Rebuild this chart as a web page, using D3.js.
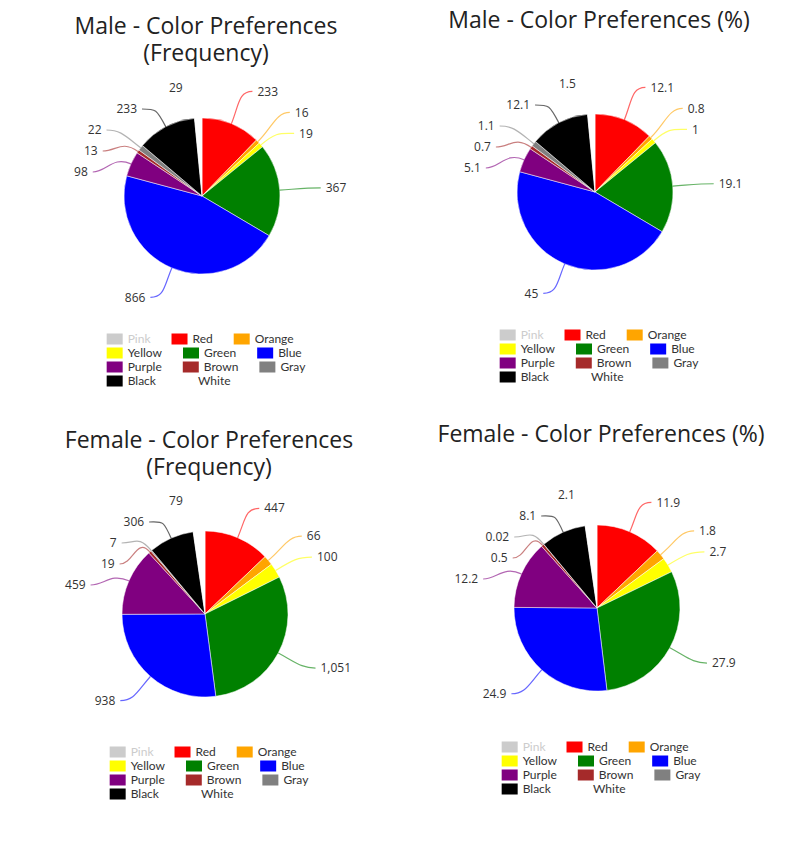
<!DOCTYPE html>
<html>
<head>
<meta charset="utf-8">
<script src="https://cdn.jsdelivr.net/npm/d3@7"></script>
<style>
  body { margin: 0; background: #fff; }
  svg { display: block; }
</style>
</head>
<body>
<div id="chart"></div>
<script>
// colour categories, in slice order (Pink is switched off in the legend)
const colorNames = ['Pink', 'Red', 'Orange', 'Yellow', 'Green', 'Blue', 'Purple', 'Brown', 'Gray', 'Black', 'White'];
const colorFills = ['#cccccc', '#ff0000', '#ffa500', '#ffff00', '#008000', '#0000ff', '#800080', '#a52a2a', '#808080', '#000000', '#ffffff'];
const hiddenNames = ['Pink'];

// series values, null where the slice is hidden
const maleFreq   = [null, 233, 16, 19, 367, 866, 98, 13, 22, 233, 29];
const malePct    = [null, 12.1, 0.8, 1, 19.1, 45, 5.1, 0.7, 1.1, 12.1, 1.5];
const femaleFreq = [null, 447, 66, 100, 1051, 938, 459, 19, 7, 306, 79];
const femalePct  = [null, 11.9, 1.8, 2.7, 27.9, 24.9, 12.2, 0.5, 0.02, 8.1, 2.1];

const maleFreqTitle   = ['Male - Color Preferences', '(Frequency)'];
const malePctTitle    = ['Male - Color Preferences (%)'];
const femaleFreqTitle = ['Female - Color Preferences', '(Frequency)'];
const femalePctTitle  = ['Female - Color Preferences (%)'];

let dim = { width: 802, height: 845 };

let svg = d3.select('#chart').append('svg')
    .attr('width', dim.width)
    .attr('height', dim.height);

let charts = [
    { title: maleFreqTitle,   values: maleFreq,   cx: 202, cy: 196, r: 78, titleY: 34,  legendY: 339 },
    { title: malePctTitle,    values: malePct,    cx: 595, cy: 192, r: 78, titleY: 28,  legendY: 335 },
    { title: femaleFreqTitle, values: femaleFreq, cx: 205, cy: 614, r: 83, titleY: 448, legendY: 752 },
    { title: femalePctTitle,  values: femalePct,  cx: 597, cy: 608, r: 83, titleY: 442, legendY: 747 }
];

let fmt = d3.format(',');
let titleFont = '"Open Sans", sans-serif';
let legendFont = 'Lato, "Open Sans", sans-serif';
let labelFont = '"Open Sans", "Noto Sans", sans-serif';

charts.forEach(function(c) {
    drawPie(c);
});

function drawPie(c) {
    let g = svg.append('g');

    // title, one text with a tspan per line
    let title = g.append('text')
        .attr('text-anchor', 'middle')
        .style('font-family', titleFont)
        .style('font-size', '23px')
        .attr('fill', '#222');
    c.title.forEach(function(line, i) {
        title.append('tspan')
            .attr('x', c.cx + 4)
            .attr('y', c.titleY + i * 27)
            .text(line);
    });

    let rows = colorNames.map((name, i) => ({
        name: name,
        fill: colorFills[i],
        value: c.values[i],
        hidden: hiddenNames.includes(name)
    }));
    let visible = rows.filter(d => !d.hidden && d.value != null);

    let pie = d3.pie().sort(null).value(d => d.value);
    let arcs = pie(visible);
    let arc = d3.arc().innerRadius(0).outerRadius(c.r);

    let pg = g.append('g').attr('transform', `translate(${c.cx},${c.cy})`);

    pg.selectAll('path.slice')
        .data(arcs)
        .join('path')
        .attr('class', 'slice')
        .attr('d', arc)
        .attr('fill', d => d.data.fill)
        .attr('stroke', '#fff')
        .attr('stroke-width', 0.5);

    // label placement
    let R = c.r + 32;
    let labels = arcs.map(function(d) {
        let a = (d.startAngle + d.endAngle) / 2;
        let side = Math.sin(a) >= 0 ? 1 : -1;
        return {
            d: d,
            a: a,
            side: side,
            x: side * (R * Math.abs(Math.sin(a)) + 14),
            y: -R * Math.cos(a)
        };
    });

    // spread overlapping labels, kept inside the label ring vertically
    [1, -1].forEach(function(side) {
        let grp = labels.filter(l => l.side === side).sort((p, q) => p.y - q.y);
        for (let it = 0; it < 200; it++) {
            for (let i = 1; i < grp.length; i++) {
                let gap = grp[i].y - grp[i - 1].y;
                if (gap < 21) {
                    let s = (21 - gap) / 2;
                    grp[i - 1].y -= s;
                    grp[i].y += s;
                }
            }
            grp.forEach(function(l) {
                l.y = Math.max(-R + 2, Math.min(R - 2, l.y));
            });
        }
    });

    pg.selectAll('path.leader')
        .data(labels)
        .join('path')
        .attr('class', 'leader')
        .attr('fill', 'none')
        .attr('stroke', l => l.d.data.fill)
        .attr('stroke-opacity', 0.6)
        .attr('stroke-width', 1.2)
        .attr('d', function(l) {
            let x0 = c.r * Math.sin(l.a), y0 = -c.r * Math.cos(l.a);
            let x1 = (c.r + 20) * Math.sin(l.a), y1 = -(c.r + 20) * Math.cos(l.a);
            let ex = l.x - l.side * 5, ey = l.y;
            let path = d3.path();
            path.moveTo(x0, y0);
            path.bezierCurveTo(x1, y1, ex - l.side * 14, ey, ex, ey);
            return path.toString();
        });

    pg.selectAll('text.lbl')
        .data(labels)
        .join('text')
        .attr('class', 'lbl')
        .attr('x', l => l.x)
        .attr('y', l => l.y)
        .attr('dy', '0.35em')
        .attr('text-anchor', l => l.side > 0 ? 'start' : 'end')
        .style('font-family', labelFont)
        .style('font-size', '12px')
        .attr('fill', '#333')
        .text(l => fmt(l.d.data.value));

    // legend, three items per row
    let lg = g.append('g');
    let items = lg.selectAll('g.item')
        .data(rows)
        .join('g')
        .attr('class', 'item');

    items.append('rect')
        .attr('width', 16)
        .attr('height', 11)
        .attr('y', -5.5)
        .attr('fill', d => d.hidden ? '#cccccc' : d.fill);

    items.append('text')
        .attr('x', 21)
        .attr('dy', '0.35em')
        .style('font-family', legendFont)
        .style('font-size', '12px')
        .attr('fill', d => d.hidden ? '#cccccc' : '#333')
        .text(d => d.name);

    let widths = [];
    items.each(function() {
        widths.push(21 + d3.select(this).select('text').node().getComputedTextLength());
    });

    let pos = [];
    let maxW = 0;
    for (let i = 0; i < rows.length; i += 3) {
        let x = 0;
        for (let j = i; j < Math.min(i + 3, rows.length); j++) {
            pos[j] = { x: x, y: (i / 3) * 14 };
            x += widths[j] + (j < i + 2 ? 21 : 0);
        }
        maxW = Math.max(maxW, x);
    }

    items.attr('transform', (d, i) => `translate(${pos[i].x},${pos[i].y})`);
    lg.attr('transform', `translate(${c.cx + 4 - maxW / 2},${c.legendY})`);
}
</script>
</body>
</html>
